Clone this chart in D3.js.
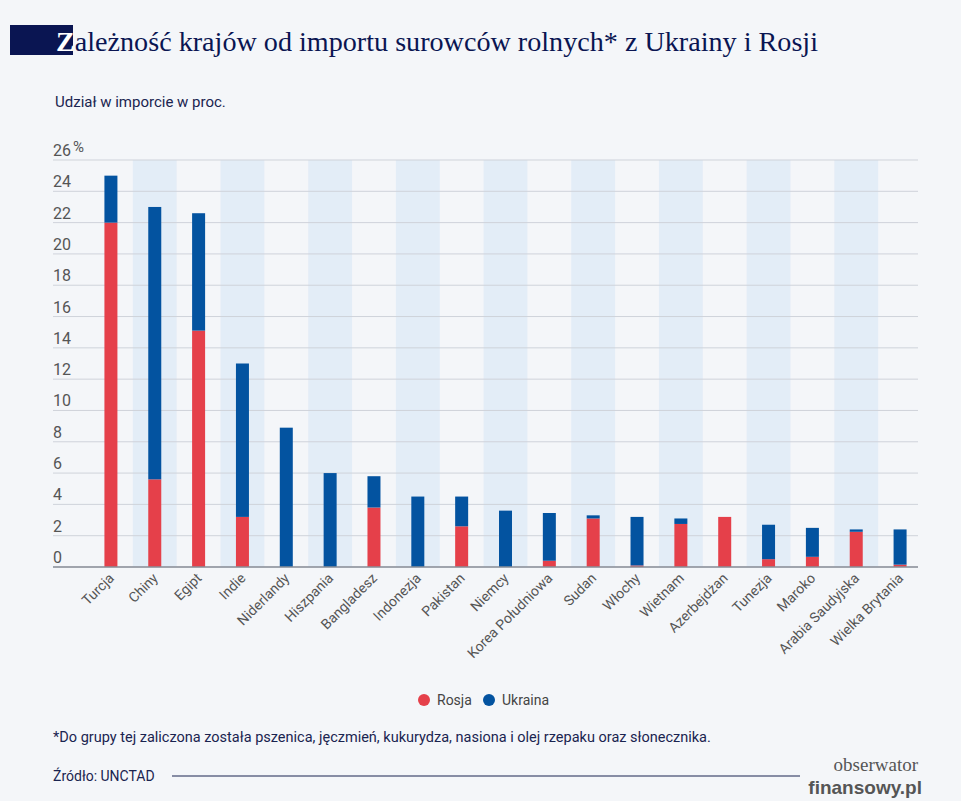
<!DOCTYPE html>
<html><head><meta charset="utf-8">
<script src="https://cdn.jsdelivr.net/npm/d3@7"></script>
<style>body{margin:0;background:#f4f6f9;}svg{display:block;}</style>
</head><body>
<svg id="c" width="961" height="801"></svg>
<script>
const categories = ["Turcja","Chiny","Egipt","Indie","Niderlandy","Hiszpania","Bangladesz","Indonezja","Pakistan","Niemcy","Korea Południowa","Sudan","Włochy","Wietnam","Azerbejdżan","Tunezja","Maroko","Arabia Saudyjska","Wielka Brytania"];
const rosja   = [22.0,5.6,15.1,3.2,0,0,3.8,0,2.6,0,0.4,3.1,0.1,2.75,3.2,0.5,0.65,2.25,0.15];
const ukraina = [3.0,17.4,7.5,9.8,8.9,6.0,2.0,4.5,1.9,3.6,3.05,0.2,3.1,0.35,0,2.2,1.85,0.15,2.25];
const ticks = [0,2,4,6,8,10,12,14,16,18,20,22,24,26];
const colors = {Rosja:"#e5404a", Ukraina:"#0353a0"};

const svg = d3.select("#c");
svg.append("rect").attr("width",961).attr("height",801).attr("fill","#f4f6f9");
// title
svg.append("rect").attr("x",10).attr("y",25).attr("width",63).attr("height",30).attr("fill","#0a1552");
const t = svg.append("text").attr("x",56).attr("y",51).attr("font-family","Liberation Serif, serif").attr("font-size",28).attr("fill","#0a1552").attr("textLength",762).attr("lengthAdjust","spacingAndGlyphs");
t.append("tspan").attr("fill","#fff").attr("font-weight","bold").text("Z");
t.append("tspan").text("ależność krajów od importu surowców rolnych* z Ukrainy i Rosji");
svg.append("text").attr("x",55).attr("y",107).attr("font-family","Roboto, sans-serif").attr("font-size",15).attr("fill","#1a2450").text("Udział w imporcie w proc.");

const x = d3.scaleBand().domain(categories).range([89,922]).padding(0);
const y = d3.scaleLinear().domain([0,26]).range([567,160]);

svg.append("g").selectAll("rect").data(categories.filter((d,i)=>i%2===1)).join("rect")
  .attr("x",d=>x(d)).attr("width",x.bandwidth()).attr("y",y(26)).attr("height",y(0)-y(26)).attr("fill","#e3edf7");
svg.append("g").selectAll("line").data(ticks).join("line")
  .attr("x1",53).attr("x2",918).attr("y1",d=>y(d)).attr("y2",d=>y(d))
  .attr("stroke","#cfd3da").attr("stroke-width",1);
svg.append("g").selectAll("text").data(ticks).join("text")
  .attr("x",53).attr("y",d=>y(d)-4).attr("font-family","Roboto, sans-serif").attr("font-size",16).attr("fill","#555")
  .text(d=>d);
svg.append("text").attr("x",73).attr("y",y(26)-8).attr("font-family","Roboto, sans-serif").attr("font-size",15).attr("fill","#555").text("%");

const bw = 13;
const stack = d3.stack().keys(["Rosja","Ukraina"])(categories.map((c,i)=>({c,Rosja:rosja[i],Ukraina:ukraina[i]})));
svg.append("g").selectAll("g").data(stack).join("g").attr("fill",s=>colors[s.key])
  .selectAll("rect").data(s=>s).join("rect")
  .attr("x",d=>x(d.data.c)+x.bandwidth()/2-bw/2).attr("width",bw)
  .attr("y",d=>y(d[1])).attr("height",d=>y(d[0])-y(d[1]));
svg.append("line").attr("x1",53).attr("x2",918).attr("y1",y(0)).attr("y2",y(0)).attr("stroke","#8a8f99").attr("stroke-width",1.5);

svg.append("g").selectAll("text").data(categories).join("text")
  .attr("transform",d=>`translate(${x(d)+x.bandwidth()/2+4},${y(0)+12}) rotate(-45)`)
  .attr("text-anchor","end").attr("font-family","Roboto, sans-serif").attr("font-size",14).attr("fill","#555").text(d=>d);

const leg = [["Rosja",424],["Ukraina",489]];
leg.forEach(([k,lx])=>{
  svg.append("circle").attr("cx",lx).attr("cy",700).attr("r",6).attr("fill",colors[k]);
  svg.append("text").attr("x",lx+13).attr("y",705).attr("font-family","Roboto, sans-serif").attr("font-size",14).attr("fill","#444").text(k);
});
svg.append("text").attr("x",53).attr("y",742).attr("font-family","Roboto, sans-serif").attr("font-size",14.5).attr("fill","#1a2450")
  .text("*Do grupy tej zaliczona została pszenica, jęczmień, kukurydza, nasiona i olej rzepaku oraz słonecznika.");
svg.append("text").attr("x",53).attr("y",781).attr("font-family","Roboto, sans-serif").attr("font-size",14).attr("fill","#1a2450").text("Źródło:  UNCTAD");
svg.append("line").attr("x1",172).attr("x2",800).attr("y1",776).attr("y2",776).attr("stroke","#1a2450").attr("stroke-width",1);
svg.append("text").attr("x",918).attr("y",771).attr("text-anchor","end").attr("font-family","Liberation Serif, serif").attr("font-size",19).attr("fill","#555").text("obserwator");
svg.append("text").attr("x",922).attr("y",794).attr("text-anchor","end").attr("font-family","Liberation Sans Narrow, Liberation Sans, sans-serif").attr("font-weight","bold").attr("font-size",19).attr("fill","#555").text("finansowy.pl");
</script>
</body></html>
